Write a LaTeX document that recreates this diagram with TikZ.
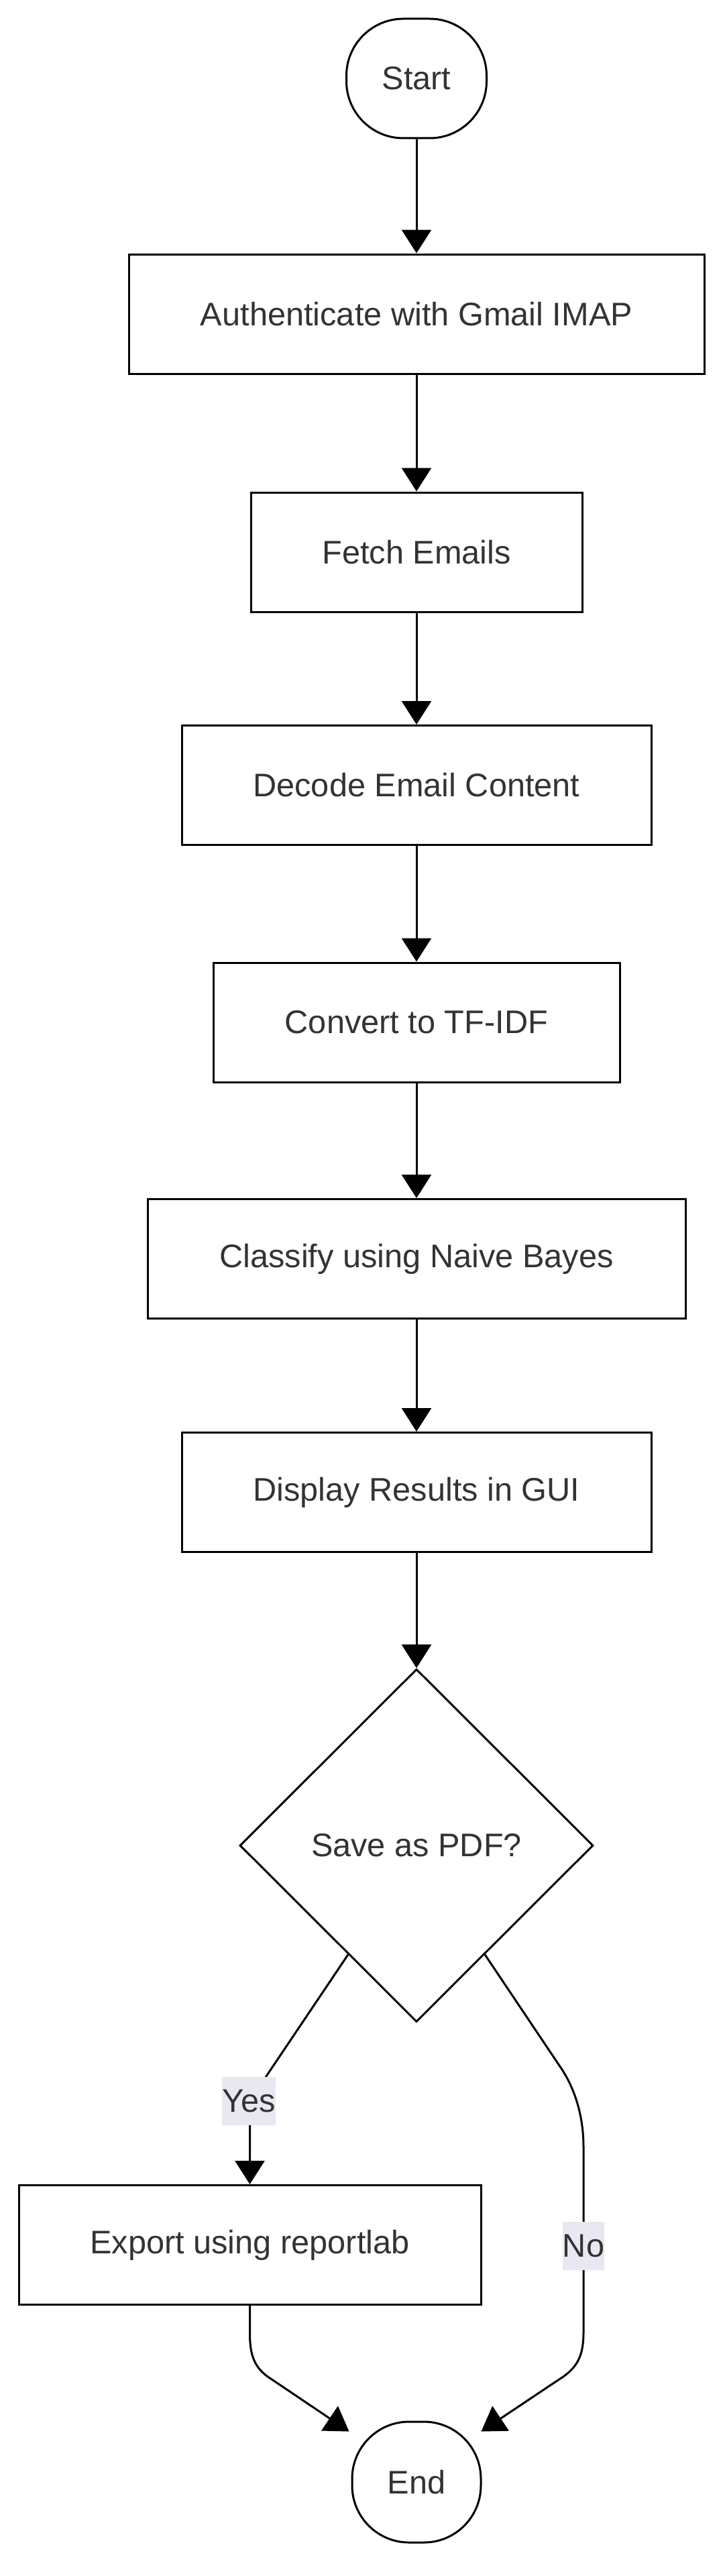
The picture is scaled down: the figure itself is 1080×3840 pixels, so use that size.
\documentclass[tikz,border=0pt]{standalone}
\usepackage{fontspec}
\setmainfont{Liberation Sans}
\usetikzlibrary{arrows.meta,shapes.geometric,calc}
\definecolor{txt}{HTML}{333333}
\definecolor{lbl}{HTML}{E8E8F2}
\tikzset{
  lblfont/.style={font=\fontsize{48.7pt}{58pt}\selectfont},
  box/.style={draw, line width=3pt, minimum height=178pt, inner sep=0pt, text=txt, lblfont},
  term/.style={box, rounded corners=85pt},
  dec/.style={diamond, draw, line width=3pt, minimum width=527pt, minimum height=526pt, inner sep=0pt, text=txt, lblfont},
  lab/.style={fill=lbl, inner sep=0pt, minimum height=72pt, text=txt, lblfont},
  arr/.style={draw, line width=3pt, -{Triangle[length=35pt,width=44pt]}},
}
\begin{document}
\begin{tikzpicture}[x=1pt,y=-1pt]
\fill[white] (0,0) rectangle (1080,3840);
\useasboundingbox (0,0) rectangle (1080,3840);

\node[term, minimum width=209pt, minimum height=178pt] (start) at (621,117) {Start};
\node[box, minimum width=858pt] (auth) at (621,468) {Authenticate with Gmail IMAP};
\node[box, minimum width=494pt] (fetch) at (621,823) {Fetch Emails};
\node[box, minimum width=700pt] (decode) at (621,1170.5) {Decode Email Content};
\node[box, minimum width=606pt] (tfidf) at (621,1524) {Convert to TF-IDF};
\node[box, minimum width=802pt] (classify) at (621,1876.5) {Classify using Naive Bayes};
\node[box, minimum width=700pt] (display) at (621,2224.5) {Display Results in GUI};
\node[dec] (save) at (621,2751) {Save as PDF?};
\node[box, minimum width=689pt] (export) at (372.5,3346.5) {Export using reportlab};
\node[term, minimum width=192pt, minimum height=180pt] (stop) at (621,3700) {End};

\draw[arr] (start) -- (auth);
\draw[arr] (auth) -- (fetch);
\draw[arr] (fetch) -- (decode);
\draw[arr] (decode) -- (tfidf);
\draw[arr] (tfidf) -- (classify);
\draw[arr] (classify) -- (display);
\draw[arr] (display) -- (save);

\coordinate (yS) at ($(save.west)!0.615!(save.south)$);
\coordinate (nS) at ($(save.east)!0.615!(save.south)$);
\coordinate (tipL) at ($(stop.north west)+(-3,16)$);
\coordinate (tipR) at ($(stop.north east)+(-1,16)$);

\draw[arr] (yS) -- (397,3095) .. controls (379,3122) and (372.5,3140) .. (372.5,3175) -- (export.north);
\draw[arr] (nS) -- (838,3085) .. controls (860,3119) and (870,3160) .. (870,3200) -- (870,3478) .. controls (870,3512) and (860,3528) .. (841,3542) -- (tipR);
\draw[arr] (export.south) -- (372.5,3478) .. controls (372.5,3512) and (380,3528) .. (398,3542) -- (tipL);

\node[lab] (yes) at (371,3132) {Yes};
\node[lab] (no) at (870,3348) {No};
\end{tikzpicture}
\end{document}
